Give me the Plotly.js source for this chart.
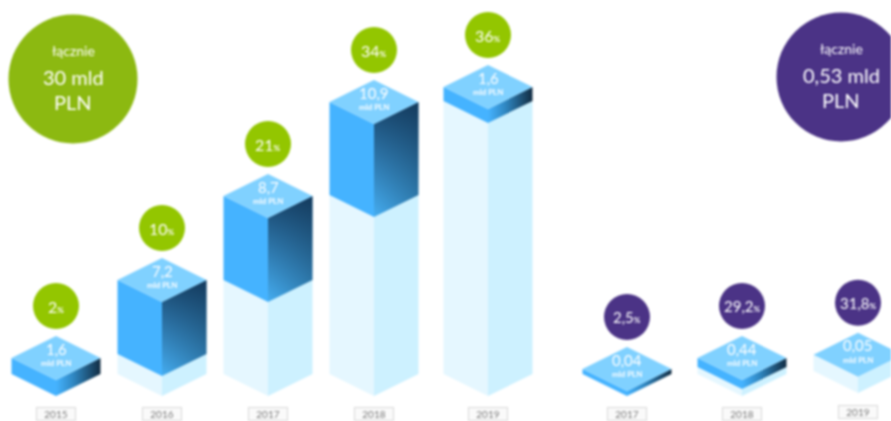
<!DOCTYPE html>
<html><head><meta charset="utf-8">
<script src="https://cdn.plot.ly/plotly-3.0.1.min.js"></script>
<style>html,body{margin:0;padding:0;background:#fff;overflow:hidden}#c{width:891px;height:421px}#c svg{filter:blur(1px)}</style>
</head><body><div id="c"></div>
<script>
// Data
const years = ['2015','2016','2017','2018','2019','2017','2018','2019'];
const amounts = ['1,6','7,2','8,7','10,9','1,6','0,04','0,44','0,05'];
const shares = ['2','10','21','34','36','2,5','29,2','31,8'];
// drawn bar parts, in axis units, as seen in the picture (the bars are not strictly to scale)
const floors = [0,0,0,0,0,0,0,0.3];
const offsets = [0,2.0,9.4,17.9,27.3,0,0.7,1.9];
const increments = [1.6,7.4,8.4,9.3,1.4,0.5,0.9,0.03];
const totals = [{line1:'łącznie',line2:'30 mld',line3:'PLN'},{line1:'łącznie',line2:'0,53 mld',line3:'PLN'}];

// Layout constants
const slots = [56,162,268,374,488,627,742,858];
const totalSlots = [[73,31.7],[841,31.9]];
const yearY = [-1.8,-1.8,-1.8,-1.8,-1.8,-1.8,-1.8,-1.6];
const hw = 44.5, dy = 2.2;
const GREEN='#93c600', GREEN2='#8cb911', PURPLE='#4b3386';
const groupColor = i => i<5?GREEN:PURPLE;

const traces=[], ann=[];
function poly(xs,ys,opt){
  traces.push(Object.assign({type:'scatter',mode:'none',x:xs.concat(xs[0]),y:ys.concat(ys[0]),fill:'toself',hoverinfo:'skip',showlegend:false},opt));
}
years.forEach((yr,i)=>{
  const c=slots[i], f=floors[i], b=offsets[i], t=b+increments[i];
  // pale (cumulative) part
  if(b>f){
    poly([c-hw,c,c,c-hw],[f+dy,f,b,b+dy],{fillcolor:'#e5f7ff'});
    poly([c,c+hw,c+hw,c],[f,f+dy,b+dy,b],{fillcolor:'#cdf1ff'});
  }
  // blue part
  if(increments[i]>0.1){
    poly([c-hw,c,c,c-hw],[b+dy,b,t,t+dy],{fillcolor:'#45b3ff'});
    const rx=[c,c+hw,c+hw,c], ry=[b,b+dy,t+dy,t];
    if(increments[i]>3){
      poly(rx,ry,{fillgradient:{type:'horizontal',colorscale:[[0,'#45aef2'],[1,'#3283b8']]}});
      poly(rx,ry,{fillgradient:{type:'vertical',colorscale:[[0,'rgba(12,40,70,0)'],[1,'rgba(12,40,70,0.8)']]}});
    } else {
      poly(rx,ry,{fillgradient:{type:'horizontal',colorscale:[[0,'#45b3ff'],[0.4,'#2f86c0'],[1,'#122c42']]}});
    }
  }
  // top face
  poly([c-hw,c,c+hw,c],[t+dy,t,t+dy,t+2*dy],{fillcolor:'#80d1ff'});
});

// share circles
traces.push({type:'scatter',mode:'markers',hoverinfo:'skip',showlegend:false,
  x:slots,y:years.map((_,i)=>offsets[i]+increments[i]+2*dy+3.0),
  marker:{size:46,color:years.map((_,i)=>groupColor(i)),line:{width:0}}});
// totals circles
traces.push({type:'scatter',mode:'markers',hoverinfo:'skip',showlegend:false,cliponaxis:true,
  x:totalSlots.map(p=>p[0]),y:totalSlots.map(p=>p[1]),
  marker:{size:129,color:[GREEN2,PURPLE],line:{width:0}}});

const F='Lato, sans-serif';
function note(x,y,text,size,extra){
  ann.push(Object.assign({x,y,xref:'x',yref:'y',text,showarrow:false,xanchor:'center',yanchor:'middle',
    font:{family:F,size,color:'#fff'},borderpad:0,borderwidth:0},extra||{}));
}
years.forEach((yr,i)=>{
  const c=slots[i], t=offsets[i]+increments[i];
  note(c,t+2*dy-1.25,amounts[i],15);
  note(c,t+2*dy-2.7,'<b>mld PLN</b>',8);
  note(c,t+2*dy+3.0,shares[i]+'<span style="font-size:8px"><b>%</b></span>',shares[i].length>2?15:16);
  ann.push({x:c,y:yearY[i],xref:'x',yref:'y',text:yr,showarrow:false,width:38,height:12,
    bordercolor:'#d8d8d8',borderwidth:1,borderpad:0,bgcolor:'#fafafa',font:{family:F,size:10,color:'#7a7a7a'}});
});
totals.forEach((g,k)=>{
  const [x,y]=totalSlots[k];
  note(x,y+2.85,g.line1,14);
  note(x,y+0.25,g.line2,20);
  note(x,y-2.3,g.line3,20);
});

Plotly.newPlot('c',traces,{
  width:891,height:421,margin:{l:0,r:0,t:0,b:0},showlegend:false,
  paper_bgcolor:'#fff',plot_bgcolor:'#fff',
  xaxis:{range:[0,891],visible:false,fixedrange:true},
  yaxis:{range:[-2.5,39.6],visible:false,fixedrange:true},
  annotations:ann
},{displayModeBar:false,staticPlot:true});
</script></body></html>
